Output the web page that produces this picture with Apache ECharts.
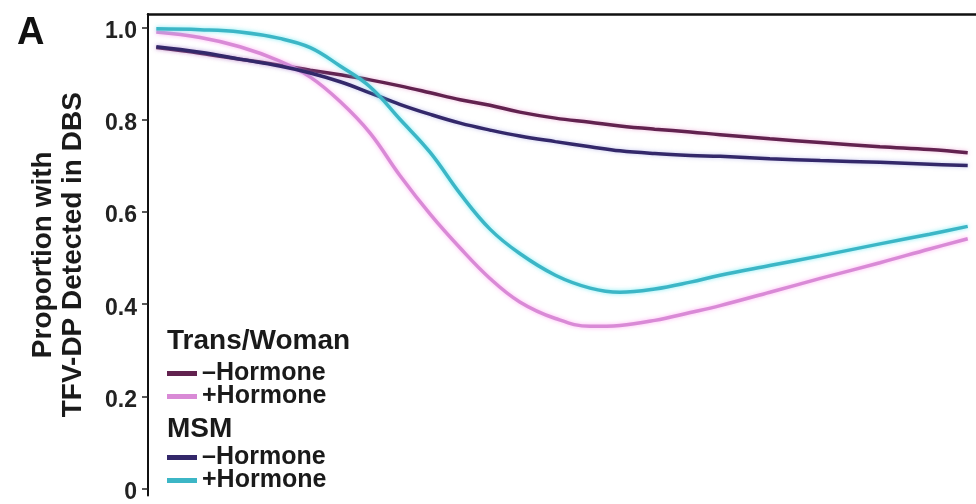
<!DOCTYPE html>
<html>
<head>
<meta charset="utf-8">
<script src="https://cdn.jsdelivr.net/npm/echarts@6/dist/echarts.min.js"></script>
<style>
  html, body { margin: 0; padding: 0; background: #fff; }
  #chart { width: 976px; height: 504px; }
</style>
</head>
<body>
<div id="chart"></div>
<script>
// Time points along the (unlabelled) horizontal axis
const timePoints = [1, 6.3, 11.1, 15.9, 19.6, 23.2, 26.8, 30.4, 34.1, 37.7, 41.3, 44.9,
                    49.2, 53.4, 57, 61.2, 65.5, 69.1, 75.1, 81.2, 88.4, 94.4, 99];

// Proportion with TFV-DP detected in DBS, per group
const transNoHormone = [0.957, 0.945, 0.932, 0.919, 0.908, 0.898, 0.887, 0.874, 0.859, 0.844, 0.832, 0.817,
                        0.804, 0.795, 0.787, 0.780, 0.774, 0.768, 0.759, 0.751, 0.742, 0.736, 0.729];
const transHormone   = [0.991, 0.979, 0.959, 0.928, 0.893, 0.840, 0.772, 0.680, 0.595, 0.522, 0.456, 0.405,
                        0.369, 0.352, 0.354, 0.365, 0.382, 0.397, 0.426, 0.456, 0.490, 0.520, 0.542];
const msmNoHormone   = [0.959, 0.947, 0.932, 0.917, 0.902, 0.883, 0.859, 0.834, 0.812, 0.793, 0.778, 0.765,
                        0.753, 0.742, 0.733, 0.727, 0.723, 0.721, 0.716, 0.712, 0.708, 0.704, 0.701];
const msmHormone     = [0.998, 0.996, 0.991, 0.977, 0.957, 0.917, 0.872, 0.802, 0.729, 0.640, 0.563, 0.510,
                        0.463, 0.435, 0.426, 0.433, 0.448, 0.463, 0.484, 0.505, 0.531, 0.552, 0.569];

const yTicks = [0, 0.2, 0.4, 0.6, 0.8, 1.0];

const FONT = '"Liberation Sans", Arial, Helvetica, sans-serif';

const pair = vals => timePoints.map((t, i) => [t, vals[i]]);

function curve(name, vals, color, glow) {
  return {
    name: name,
    type: 'line',
    data: pair(vals),
    smooth: 0.4,
    showSymbol: false,
    symbol: 'none',
    color: color,
    lineStyle: { color: color, width: 3.5, shadowColor: glow, shadowBlur: 4 },
    emphasis: { disabled: true },
    z: 2
  };
}

const chart = echarts.init(document.getElementById('chart'), null, { renderer: 'canvas' });

const legendText = n => n.indexOf('−') >= 0 ? '–Hormone' : '+Hormone';

const legendBase = {
  orient: 'vertical',
  left: 167,
  height: 80,
  padding: 0,
  itemWidth: 30,
  itemHeight: 5,
  itemGap: -2,
  icon: 'rect',
  selectedMode: false,
  formatter: legendText,
  textStyle: {
    fontFamily: FONT, fontWeight: 'bold', fontSize: 25, lineHeight: 23,
    color: '#1a1a1a'
  }
};

chart.setOption({
  animation: false,
  backgroundColor: '#ffffff',
  grid: { left: 148, right: 0, top: 14, bottom: 0, containLabel: false },
  xAxis: {
    type: 'value',
    min: 0,
    max: 100,
    position: 'top',
    axisLine: { show: true, onZero: false, lineStyle: { color: '#111', width: 2.5 } },
    axisTick: { show: false },
    axisLabel: { show: false },
    splitLine: { show: false }
  },
  yAxis: {
    type: 'value',
    min: -0.015,
    max: 1.03,
    name: 'Proportion with\nTFV-DP Detected in DBS',
    nameLocation: 'middle',
    nameRotate: 90,
    nameGap: 60,
    nameTextStyle: {
      fontFamily: FONT, fontWeight: 'bold', fontSize: 28, color: '#1a1a1a', lineHeight: 30
    },
    axisLine: { show: true, onZero: false, lineStyle: { color: '#111', width: 2 } },
    axisTick: { show: true, length: 6, lineStyle: { color: '#222', width: 1.5 }, customValues: yTicks },
    axisLabel: {
      customValues: yTicks,
      margin: 11,
      formatter: v => '{t|' + (v === 0 ? '0' : v.toFixed(1)) + '}',
      rich: {
        t: {
          fontFamily: FONT, fontWeight: 'bold', fontSize: 23, color: '#222',
          padding: [8, 0, 0, 0]
        }
      }
    },
    splitLine: { show: false }
  },
  legend: [
    Object.assign({}, legendBase, { top: 361, data: ['Trans/Woman −Hormone', 'Trans/Woman +Hormone'] }),
    Object.assign({}, legendBase, { top: 445, data: ['MSM −Hormone', 'MSM +Hormone'] })
  ],
  graphic: [
    {
      type: 'text', x: 17, y: 34,
      style: { text: 'A', font: 'bold 38px ' + FONT, fill: '#111', verticalAlign: 'middle' }
    },
    {
      type: 'text', x: 167, y: 341,
      style: { text: 'Trans/Woman', font: 'bold 28px ' + FONT, fill: '#1a1a1a', verticalAlign: 'middle' }
    },
    {
      type: 'text', x: 167, y: 429,
      style: { text: 'MSM', font: 'bold 28px ' + FONT, fill: '#1a1a1a', verticalAlign: 'middle' }
    }
  ],
  series: [
    curve('Trans/Woman −Hormone', transNoHormone, '#62224f', 'rgba(230,140,200,0.6)'),
    curve('Trans/Woman +Hormone', transHormone, '#d98ad6', 'rgba(255,150,240,0.7)'),
    curve('MSM −Hormone', msmNoHormone, '#33286a', 'rgba(140,140,220,0.5)'),
    curve('MSM +Hormone', msmHormone, '#3cb6c6', 'rgba(80,230,240,0.7)')
  ]
});
</script>
</body>
</html>
